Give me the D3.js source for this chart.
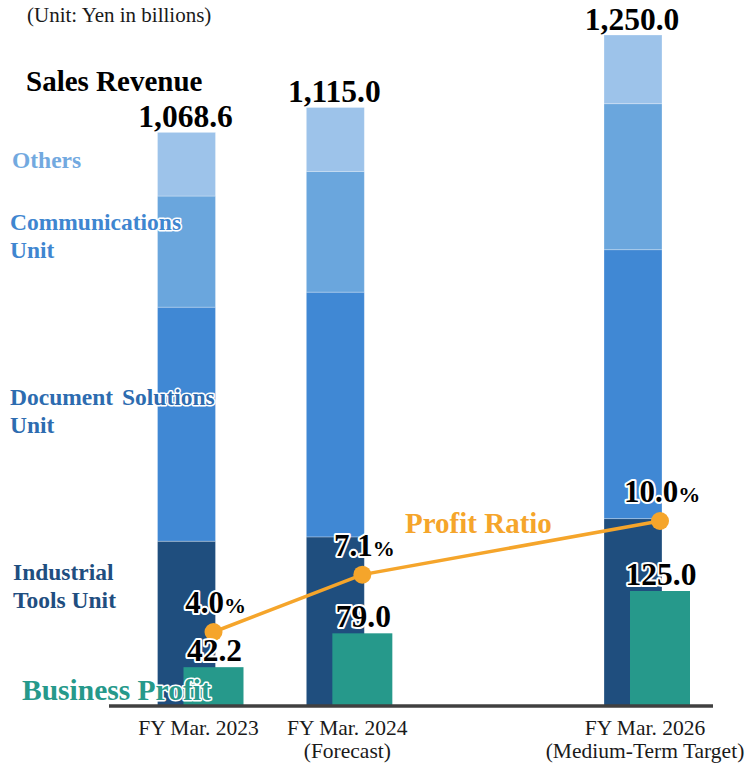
<!DOCTYPE html>
<html>
<head>
<meta charset="utf-8">
<script src="https://cdn.jsdelivr.net/npm/d3@7"></script>
<style>
  html, body { margin: 0; padding: 0; background: #fff; }
  svg { display: block; }
  text { font-family: "Liberation Serif", "Times New Roman", serif; }
</style>
</head>
<body>
<svg id="chart" width="745" height="763"></svg>
<script>
// ---- Data ----
const years = [2023, 2024, 2026];
const yearLabels = [["FY Mar. 2023"], ["FY Mar. 2024", "(Forecast)"], ["FY Mar. 2026", "(Medium-Term Target)"]];
const segments = ["Industrial Tools Unit", "Document Solutions Unit", "Communications Unit", "Others"];
const industrial = [307.0, 315.0, 349.0];
const documentSol = [436.0, 456.0, 501.0];
const communications = [207.0, 225.0, 272.0];
const others = [118.6, 119.0, 128.0];
const salesTotals = [1068.6, 1115.0, 1250.0];
const businessProfit = [42.2, 79.0, 125.0];
const profitRatio = [4.0, 7.1, 10.0];

const segColors = ["#1f4e7e", "#4088d4", "#6aa6dd", "#9dc3ea"];
const segTextColors = ["#1f4e80", "#2d6cb0", "#3f86d0", "#72a9df"];
const green = "#26998b";
const orange = "#f5a52b";

const svg = d3.select("#chart");
const baseY = 706;

const x = d3.scaleLinear().domain([2023, 2026]).range([186.5, 633]);
const ySales = d3.scaleLinear().domain([0, 1250]).range([baseY, 35]);
const yProfit = d3.scaleLinear().domain([0, 125]).range([baseY, 591]);
const yRatio = d3.scaleLinear().domain([0, 10]).range([baseY, 521]);

const stackRows = years.map((yr, i) => ({
  year: yr, [segments[0]]: industrial[i], [segments[1]]: documentSol[i],
  [segments[2]]: communications[i], [segments[3]]: others[i]
}));
const stacked = d3.stack().keys(segments)(stackRows);

const barW = 58;
svg.append("g").selectAll("g").data(stacked).join("g")
  .attr("fill", (d, i) => segColors[i])
  .selectAll("rect").data(d => d).join("rect")
  .attr("x", d => x(d.data.year) - barW / 2)
  .attr("width", barW)
  .attr("y", d => ySales(d[1]))
  .attr("height", d => ySales(d[0]) - ySales(d[1]))
  .attr("stroke", "rgba(255,255,255,0.35)")
  .attr("stroke-width", 0.8);

// Business profit bars
const pW = 60;
svg.append("g").selectAll("rect").data(years).join("rect")
  .attr("x", (d) => x(d) - 3)
  .attr("width", pW)
  .attr("y", (d, i) => yProfit(businessProfit[i]))
  .attr("height", (d, i) => baseY - yProfit(businessProfit[i]))
  .attr("fill", green);

// Axis line
svg.append("line").attr("x1", 109).attr("x2", 713).attr("y1", baseY).attr("y2", baseY)
  .attr("stroke", "#404040").attr("stroke-width", 3.5);

// Axis labels
const xl = svg.append("g");
years.forEach((yr, i) => {
  const t = xl.append("text").attr("text-anchor", "middle").attr("font-size", 21.5).attr("fill", "#1a1a1a");
  yearLabels[i].forEach((s, j) => {
    t.append("tspan").attr("x", x(yr) + 12).attr("y", 735 + j * 23).text(s);
  });
});

function halo(sel, w) {
  return sel.attr("stroke", "#fff").attr("stroke-width", w || 3).attr("paint-order", "stroke").attr("stroke-linejoin", "round");
}

// Sales totals
svg.append("g").selectAll("text").data(years).join("text")
  .attr("x", d => x(d) - 1).attr("y", (d, i) => ySales(salesTotals[i]) - 5)
  .attr("text-anchor", "middle").attr("font-weight", "bold").attr("font-size", 31.5).attr("fill", "#000")
  .text((d, i) => d3.format(",.1f")(salesTotals[i]));

// Profit ratio line
const lineGen = d3.line().x((d, i) => x(years[i]) + 27).y(d => yRatio(d));
svg.append("path").datum(profitRatio).attr("d", lineGen)
  .attr("fill", "none").attr("stroke", orange).attr("stroke-width", 3.5);
svg.append("g").selectAll("circle").data(profitRatio).join("circle")
  .attr("cx", (d, i) => x(years[i]) + 27).attr("cy", d => yRatio(d)).attr("r", 9)
  .attr("fill", orange);

// Ratio labels
svg.append("g").selectAll("text").data(profitRatio).join("text")
  .attr("x", (d, i) => x(years[i]) + 29).attr("y", d => yRatio(d) - 19)
  .attr("text-anchor", "middle").attr("font-weight", "bold").attr("font-size", 31).attr("fill", "#000")
  .call(halo, 4)
  .each(function (d) {
    const t = d3.select(this);
    t.append("tspan").text(d.toFixed(1));
    t.append("tspan").attr("font-size", 22).text("%");
  });

// Profit values
svg.append("g").selectAll("text").data(businessProfit).join("text")
  .attr("x", (d, i) => x(years[i]) + 28).attr("y", d => yProfit(d) - 6)
  .attr("text-anchor", "middle").attr("font-weight", "bold").attr("font-size", 31.5).attr("fill", "#000")
  .call(halo, 4)
  .text(d => d.toFixed(1));

// Titles / legends
svg.append("text").attr("x", 27).attr("y", 22).attr("font-size", 21).attr("fill", "#1a1a1a")
  .text("(Unit: Yen in billions)");
svg.append("text").attr("x", 26).attr("y", 91).attr("font-size", 29).attr("font-weight", "bold").attr("fill", "#000")
  .text("Sales Revenue");

const legendLines = [
  { lines: ["Industrial", "Tools Unit"], x: 13, y: 580, ws: 0 },
  { lines: ["Document Solutions", "Unit"], x: 10, y: 405, ws: 3 },
  { lines: ["Communications", "Unit"], x: 10, y: 230, ws: 0 },
  { lines: ["Others"], x: 12, y: 168, ws: 0 }
];
legendLines.forEach((l, i) => {
  const t = svg.append("text").attr("font-weight", "bold").attr("font-size", 23.5)
    .attr("word-spacing", l.ws)
    .attr("fill", segTextColors[i]).call(halo, 3);
  l.lines.forEach((s, j) => t.append("tspan").attr("x", l.x).attr("y", l.y + j * 28).text(s));
});

svg.append("text").attr("x", 22).attr("y", 700).attr("font-weight", "bold").attr("font-size", 29.5)
  .attr("fill", green).call(halo, 3).text("Business Profit");
svg.append("text").attr("x", 405).attr("y", 533).attr("font-weight", "bold").attr("font-size", 29)
  .attr("fill", orange).call(halo, 3).text("Profit Ratio");
</script>
</body>
</html>
